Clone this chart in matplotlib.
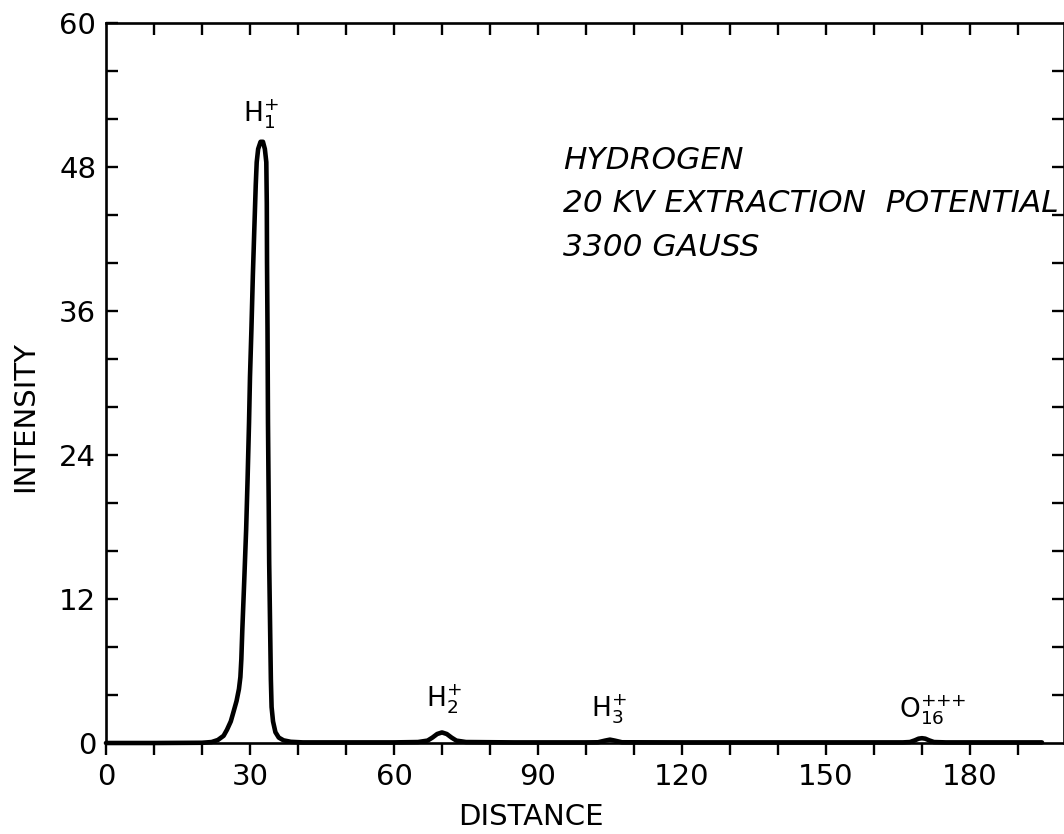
import numpy as np
import matplotlib
matplotlib.use("Agg")
import matplotlib.pyplot as plt
from matplotlib.ticker import MultipleLocator

# trace (distance, intensity)
distance = [0, 10, 20, 22, 23.3, 24.5, 25.2, 26.0, 26.5, 27.2, 27.7, 28.0, 28.2,
            28.4, 28.8, 29.2, 29.5, 29.8, 30.0, 30.3, 30.6, 30.9, 31.2, 31.4,
            31.7, 32.2, 32.7, 33.1, 33.4, 33.5, 33.55, 33.65, 33.75, 33.9, 34.0,
            34.2, 34.35, 34.5, 34.8, 35.3, 36.0, 37.0, 38.5, 41, 50, 60, 65,
            67, 68, 69, 70, 71, 72, 73, 75, 85, 100, 102.5, 104, 105, 106,
            107.5, 120, 140, 160, 166, 167.5, 168.5, 169.3, 170, 170.7, 171.5,
            172.5, 175, 185, 195]
intensity = [0.0, 0.0, 0.02, 0.08, 0.25, 0.6, 1.1, 1.8, 2.5, 3.5, 4.5, 5.5, 7.0,
             9.4, 13.5, 17.8, 22.0, 26.7, 30.5, 34.5, 39.0, 42.8, 46.5, 48.4,
             49.5, 50.1, 50.1, 49.5, 48.4, 45.0, 40.0, 34.5, 26.7, 20.0, 15.0,
             9.4, 5.3, 3.0, 1.8, 0.9, 0.45, 0.22, 0.1, 0.05, 0.05, 0.05, 0.08,
             0.2, 0.45, 0.75, 0.88, 0.75, 0.45, 0.2, 0.08, 0.05, 0.05, 0.06, 0.2,
             0.28, 0.2, 0.06, 0.05, 0.05, 0.05, 0.05, 0.08, 0.22, 0.36, 0.4,
             0.36, 0.22, 0.08, 0.05, 0.05, 0.05]

peak_labels = [r'$\mathregular{H_1^{{+}}}$', r'$\mathregular{H_2^{{+}}}$',
               r'$\mathregular{H_3^{{+}}}$', r'$\mathregular{O_{16}^{{+}{+}{+}}}$']
peak_x = [32.3, 70.4, 104.8, 172.3]
peak_y = [51.8, 3.0, 2.17, 2.09]

note_lines = ['HYDROGEN', '20 KV EXTRACTION  POTENTIAL', '3300 GAUSS']
note_y = [47.83, 44.24, 40.57]

plt.rcParams['font.family'] = 'DejaVu Sans'
fig = plt.figure(figsize=(10.64, 8.34), dpi=100)
ax = fig.add_axes([106/1064, 1 - 743/834, 1 - 106/1064, (743 - 23)/834])

ax.plot(distance, intensity, color='black', lw=3.3, solid_capstyle='round',
        solid_joinstyle='round', clip_on=False, zorder=3)

ax.set_xlim(0, 199.6)
ax.set_ylim(0, 60)
ax.xaxis.set_major_locator(MultipleLocator(30))
ax.xaxis.set_minor_locator(MultipleLocator(10))
ax.yaxis.set_major_locator(MultipleLocator(12))
ax.yaxis.set_minor_locator(MultipleLocator(4))

for s in ax.spines.values():
    s.set_linewidth(1.9)

ax.tick_params(axis='x', which='both', direction='out', length=8.6, width=1.7,
               top=False, labelsize=21, pad=6)
ax.tick_params(axis='y', which='both', direction='in', length=8.6, width=1.7,
               right=False, labelsize=21, pad=7)
ax.tick_params(axis='x', which='minor', labelbottom=False)

# inward ticks on top and right, every minor step
top = ax.secondary_xaxis('top')
top.set_xticks(np.arange(10, 200, 10))
top.tick_params(direction='in', length=8.6, width=1.7, labeltop=False)
top.spines['top'].set_visible(False)
right = ax.secondary_yaxis('right')
right.set_yticks(np.arange(4, 60, 4))
right.tick_params(direction='in', length=8.6, width=1.7, labelright=False)
right.spines['right'].set_visible(False)

for lab, px, py in zip(peak_labels, peak_x, peak_y):
    ax.text(px, py, lab, fontsize=19, ha='center', va='baseline')

for line, ny in zip(note_lines, note_y):
    ax.text(95.2, ny, line, fontsize=22.5, style='italic', ha='left',
            va='baseline', clip_on=False)

fig.text(531/1064, 1 - 817/834, 'DISTANCE', fontsize=21, ha='center', va='center')
fig.text(25/1064, 1 - 416/834, 'INTENSITY', fontsize=21, rotation=90,
         ha='center', va='center')

fig.savefig('out.png', dpi=100)
